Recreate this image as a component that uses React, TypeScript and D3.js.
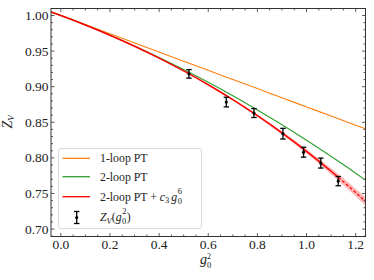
import { useEffect, useRef } from "react";
import * as d3 from "d3";

// x grid for the perturbative curves and the fit (g0^2)
const curveX = [-0.04, 0.0, 0.1, 0.2, 0.3, 0.4, 0.5, 0.6, 0.7, 0.8, 0.9, 1.0, 1.1, 1.13, 1.2, 1.24];
const oneLoop = [1.0051, 1.0, 0.9872, 0.9743, 0.9615, 0.9486, 0.9358, 0.923, 0.9101, 0.8973, 0.8844, 0.8716, 0.8588, 0.8549, 0.8459, 0.8408];
const twoLoop = [1.005, 1.0, 0.9867, 0.9724, 0.9573, 0.9411, 0.9241, 0.9061, 0.8872, 0.8673, 0.8465, 0.8248, 0.8021, 0.7952, 0.7785, 0.7688];
const fitC3 = [1.005, 1.0, 0.9867, 0.9723, 0.9568, 0.9401, 0.9221, 0.9027, 0.8818, 0.8593, 0.8351, 0.8091, 0.7812, 0.7725, 0.7514, 0.7388];
const fitErr = [0, 0, 0.00001, 0.00002, 0.00008, 0.0002, 0.0004, 0.0007, 0.0011, 0.0016, 0.0023, 0.0031, 0.0041, 0.0045, 0.0054, 0.0059];
const fitEnd = 1.13; // dashed beyond the last data point

// non-perturbative Z_V
const g2 = [0.5215, 0.6735, 0.786, 0.904, 0.988, 1.058, 1.129];
const zv = [0.918, 0.8784, 0.863, 0.834, 0.808, 0.7927, 0.7674];
const zvErr = [0.006, 0.0068, 0.0063, 0.0075, 0.007, 0.007, 0.0065];

const xTicks = [0.0, 0.2, 0.4, 0.6, 0.8, 1.0, 1.2];
const yTicks = [0.7, 0.75, 0.8, 0.85, 0.9, 0.95, 1.0];

const ORANGE = "#ff7f0e";
const GREEN = "#2ca02c";
const RED = "#ff0000";
const FONT = "'Liberation Serif', 'Times New Roman', serif";

export default function App() {
  const ref = useRef<SVGSVGElement>(null);

  useEffect(() => {
    const width = 374;
    const height = 280;
    const left = 51, right = 365.5, top = 8.5, bottom = 236.5;

    const svg = d3.select(ref.current!);
    svg.selectAll("*").remove();
    svg.style("font-family", FONT);

    const x = d3.scaleLinear([-0.04, 1.24], [left, right]);
    const y = d3.scaleLinear([0.6896, 1.0098], [bottom, top]);

    const defs = svg.append("defs");
    defs.append("clipPath").attr("id", "plotclip")
      .append("rect").attr("x", left).attr("y", top)
      .attr("width", right - left).attr("height", bottom - top);

    const plot = svg.append("g").attr("clip-path", "url(#plotclip)");

    const pts = curveX.map((v, i) => ({ x: v, one: oneLoop[i], two: twoLoop[i], fit: fitC3[i], err: fitErr[i] }));

    const line = (key: "one" | "two" | "fit") =>
      d3.line<typeof pts[number]>().x(d => x(d.x)).y(d => y(d[key])).curve(d3.curveMonotoneX);

    // error band of the fit
    plot.append("path")
      .attr("fill", RED)
      .attr("fill-opacity", 0.28)
      .attr("d", d3.area<typeof pts[number]>()
        .x(d => x(d.x))
        .y0(d => y(d.fit - d.err))
        .y1(d => y(d.fit + d.err))
        .curve(d3.curveMonotoneX)(pts));

    plot.append("path").attr("fill", "none").attr("stroke", ORANGE).attr("stroke-width", 1.1)
      .attr("d", line("one")(pts));
    plot.append("path").attr("fill", "none").attr("stroke", GREEN).attr("stroke-width", 1.1)
      .attr("d", line("two")(pts));

    const solid = pts.filter(d => d.x <= fitEnd);
    const dashed = pts.filter(d => d.x >= fitEnd);
    plot.append("path").attr("fill", "none").attr("stroke", RED).attr("stroke-width", 1.5)
      .attr("d", line("fit")(solid));
    plot.append("path").attr("fill", "none").attr("stroke", RED).attr("stroke-width", 1.2)
      .attr("stroke-dasharray", "3,2")
      .attr("d", line("fit")(dashed));

    // data points with error bars
    const pg = svg.append("g").attr("stroke", "black").attr("stroke-width", 1.3);
    g2.forEach((gv, i) => {
      const cx = x(gv);
      const y0 = y(zv[i] - zvErr[i]);
      const y1 = y(zv[i] + zvErr[i]);
      pg.append("line").attr("x1", cx).attr("x2", cx).attr("y1", y0).attr("y2", y1);
      pg.append("line").attr("x1", cx - 2.7).attr("x2", cx + 2.7).attr("y1", y0).attr("y2", y0);
      pg.append("line").attr("x1", cx - 2.7).attr("x2", cx + 2.7).attr("y1", y1).attr("y2", y1);
      pg.append("circle").attr("cx", cx).attr("cy", y(zv[i])).attr("r", 1.6).attr("fill", "black").attr("stroke", "none");
    });

    // frame and inward ticks on all four sides
    const axisColor = "#333";
    svg.append("rect").attr("x", left).attr("y", top)
      .attr("width", right - left).attr("height", bottom - top)
      .attr("fill", "none").attr("stroke", axisColor).attr("stroke-width", 1);

    const tk = svg.append("g").attr("stroke", axisColor).attr("stroke-width", 0.8);
    const xMinor = d3.range(-0.0, 1.2401, 0.05);
    const yMinor = d3.range(0.69, 1.0099, 0.01);
    xMinor.forEach(v => {
      const major = xTicks.some(t => Math.abs(t - v) < 1e-6);
      const L = major ? 3.5 : 2;
      tk.append("line").attr("x1", x(v)).attr("x2", x(v)).attr("y1", bottom).attr("y2", bottom - L);
      tk.append("line").attr("x1", x(v)).attr("x2", x(v)).attr("y1", top).attr("y2", top + L);
    });
    yMinor.forEach(v => {
      const major = yTicks.some(t => Math.abs(t - v) < 1e-6);
      const L = major ? 3.5 : 2;
      tk.append("line").attr("y1", y(v)).attr("y2", y(v)).attr("x1", left).attr("x2", left + L);
      tk.append("line").attr("y1", y(v)).attr("y2", y(v)).attr("x1", right).attr("x2", right - L);
    });

    const labels = svg.append("g").attr("font-size", 13.5).attr("fill", "#222");
    xTicks.forEach(t => {
      labels.append("text").attr("x", x(t)).attr("y", bottom + 12.5)
        .attr("text-anchor", "middle").text(d3.format(".1f")(t));
    });
    yTicks.forEach(t => {
      labels.append("text").attr("x", left - 2.5).attr("y", y(t) + 4.5)
        .attr("text-anchor", "end").text(d3.format(".2f")(t));
    });

    // axis titles
    const gx = svg.append("text").attr("font-size", 14).attr("font-style", "italic")
      .attr("x", 200).attr("y", 264).attr("fill", "#222").text("g");
    const gxb = (gx.node() as SVGTextElement).getBBox();
    svg.append("text").attr("font-size", 8.5).attr("x", gxb.x + gxb.width).attr("y", 267.5).attr("fill", "#222").text("0");
    svg.append("text").attr("font-size", 8).attr("x", gxb.x + gxb.width).attr("y", 259).attr("fill", "#222").text("2");

    const yl = svg.append("text").attr("font-size", 14)
      .attr("transform", `translate(11.5,${(top + bottom) / 2 + 6}) rotate(-90)`).attr("fill", "#222");
    yl.append("tspan").attr("font-style", "italic").text("Z");
    yl.append("tspan").attr("font-style", "italic").attr("font-size", 9).attr("dy", 2.5).text("V");

    // legend
    const lg = svg.append("g").attr("font-size", 11.8).attr("fill", "#222");
    lg.append("rect").attr("x", 58.5).attr("y", 148.5).attr("width", 143).attr("height", 80)
      .attr("rx", 2.5).attr("fill", "white").attr("fill-opacity", 0.85)
      .attr("stroke", "#d6d6d6").attr("stroke-width", 0.9);
    [ORANGE, GREEN, RED].forEach((c, i) => {
      const ly = [158.3, 176.7, 196.7][i];
      lg.append("line").attr("x1", 62.5).attr("x2", 90).attr("y1", ly).attr("y2", ly)
        .attr("stroke", c).attr("stroke-width", 1.3);
    });
    lg.append("text").attr("x", 100).attr("y", 162.3).text("1-loop PT");
    lg.append("text").attr("x", 100).attr("y", 180.7).text("2-loop PT");
    const t3 = lg.append("text").attr("x", 100).attr("y", 200.7);
    t3.append("tspan").text("2-loop PT + ");
    t3.append("tspan").attr("font-style", "italic").text("c");
    t3.append("tspan").attr("font-size", 8.5).attr("dy", 2.5).text("3");
    t3.append("tspan").attr("font-style", "italic").attr("dx", 2).attr("dy", -2.5).text("g");
    const b3 = (t3.node() as SVGTextElement).getBBox();
    lg.append("text").attr("font-size", 8.5).attr("x", b3.x + b3.width + 0.3).attr("y", 203.5).text("0");
    lg.append("text").attr("font-size", 8.5).attr("x", b3.x + b3.width + 0.3).attr("y", 194).text("6");

    const ex = 76.7, ey = 217.5;
    const eg = lg.append("g").attr("stroke", "black").attr("stroke-width", 1.3);
    eg.append("line").attr("x1", ex).attr("x2", ex).attr("y1", ey - 6).attr("y2", ey + 6);
    eg.append("line").attr("x1", ex - 2.7).attr("x2", ex + 2.7).attr("y1", ey - 6).attr("y2", ey - 6);
    eg.append("line").attr("x1", ex - 2.7).attr("x2", ex + 2.7).attr("y1", ey + 6).attr("y2", ey + 6);
    eg.append("circle").attr("cx", ex).attr("cy", ey).attr("r", 1.6).attr("fill", "black").attr("stroke", "none");
    const t4 = lg.append("text").attr("x", 100).attr("y", 221);
    t4.append("tspan").attr("font-style", "italic").text("Z");
    t4.append("tspan").attr("font-style", "italic").attr("font-size", 8.5).attr("dy", 2.5).text("V");
    t4.append("tspan").attr("dy", -2.5).text("(");
    const gspan = t4.append("tspan").attr("font-style", "italic").text("g");
    t4.append("tspan").attr("font-size", 8.5).attr("dx", 0.5).attr("dy", 2.5).text("0");
    t4.append("tspan").attr("dx", 0.5).attr("dy", -2.5).text(")");
    const gb = (gspan.node() as SVGTSpanElement).getBBox();
    lg.append("text").attr("font-size", 8.5).attr("x", gb.x + gb.width + 0.5).attr("y", 214).text("2");

    svg.attr("viewBox", `0 0 ${width} ${height}`);
  }, []);

  return (
    <svg
      ref={ref}
      width={374}
      height={280}
      style={{ position: "absolute", left: 0, top: 0, background: "white" }}
    />
  );
}
